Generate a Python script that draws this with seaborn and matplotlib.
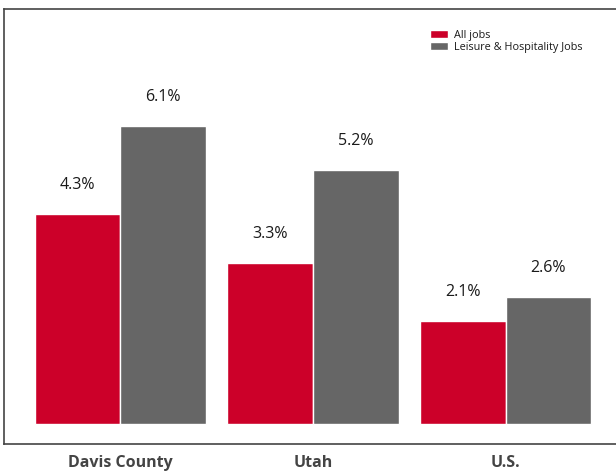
import pandas as pd
import matplotlib.pyplot as plt
import seaborn as sns

regions = ["Davis County", "Utah", "U.S."]
all_jobs = [4.3, 3.3, 2.1]
leisure_jobs = [6.1, 5.2, 2.6]
series_names = ["All jobs", "Leisure & Hospitality Jobs"]
colors = ["#CC0029", "#666666"]

df = pd.DataFrame({
    "region": regions * 2,
    "series": [series_names[0]] * 3 + [series_names[1]] * 3,
    "value": all_jobs + leisure_jobs,
})

sns.set_theme(style="white")
plt.rcParams["font.family"] = ["Open Sans", "DejaVu Sans"]

fig = plt.figure(figsize=(6.16, 4.72), dpi=100)
ax = fig.add_axes([4 / 616, 28 / 472, 612 / 616, 435 / 472])

sns.barplot(data=df, x="region", y="value", hue="series", palette=colors,
            saturation=1, width=0.89, edgecolor="white", linewidth=1, ax=ax)

for cont in ax.containers:
    for bar in cont:
        h = bar.get_height()
        ax.annotate(f"{h:.1f}%", (bar.get_x() + bar.get_width() / 2, h),
                    xytext=(0, 29), textcoords="offset pixels",
                    ha="center", va="center", fontsize=11.5, color="#1a1a1a")

ax.set_xlim(-0.604, 2.573)
ax.set_ylim(-0.41, 8.5)
ax.set_xlabel("")
ax.set_ylabel("")
ax.set_yticks([])
ax.tick_params(axis="x", length=0, pad=8)
for lbl in ax.get_xticklabels():
    lbl.set_fontweight("bold")
    lbl.set_fontsize(11.5)
    lbl.set_color("#444444")

for side in ["left", "top", "bottom"]:
    ax.spines[side].set_color("#444444")
    ax.spines[side].set_linewidth(1.2)
ax.spines["right"].set_visible(False)

leg = ax.legend(loc="upper right", bbox_to_anchor=(0.962, 0.975), frameon=False,
                fontsize=7.8, handlelength=1.7, handleheight=0.8,
                handletextpad=0.6, labelspacing=0.1)
for t in leg.get_texts():
    t.set_color("#1a1a1a")

fig.savefig("out.png", dpi=100)
